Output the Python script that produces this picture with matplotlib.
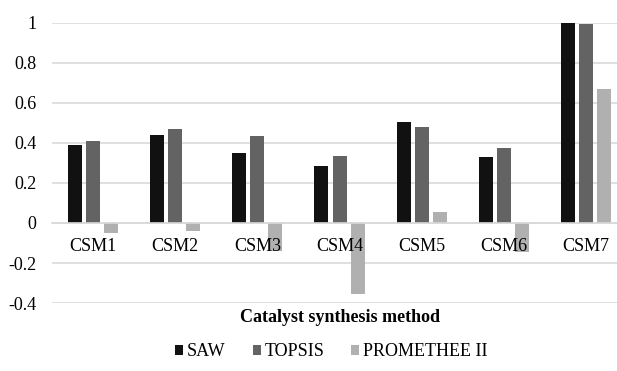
import numpy as np
import matplotlib.pyplot as plt

categories = ["CSM1", "CSM2", "CSM3", "CSM4", "CSM5", "CSM6", "CSM7"]
saw = [0.39, 0.437, 0.35, 0.282, 0.503, 0.33, 1.0]
topsis = [0.407, 0.47, 0.433, 0.335, 0.48, 0.373, 0.995]
promethee = [-0.05, -0.04, -0.14, -0.355, 0.053, -0.147, 0.67]

series = [("SAW", saw, "#111111"),
          ("TOPSIS", topsis, "#636363"),
          ("PROMETHEE II", promethee, "#b0b0b0")]

plt.rcParams['font.family'] = ['Liberation Serif', 'DejaVu Serif']

fig = plt.figure(figsize=(6.17, 3.71), dpi=100)
# plot area runs a little past the right edge, like the cropped original
ax = fig.add_axes([0.0843, 0.183, 0.932, 0.756])

x = np.arange(len(categories))
for i, (name, vals, col) in enumerate(series):
    ax.bar(x + (i - 1) * 0.22, vals, width=0.17, color=col, label=name, zorder=2)

# category axis sits on the zero line
ax.spines['bottom'].set_position(('data', 0))
ax.spines['bottom'].set_color("#d9d9d9")
ax.spines['bottom'].set_linewidth(1.2)
for s in ["left", "right", "top"]:
    ax.spines[s].set_visible(False)

ax.set_xlim(-0.5, len(categories) - 0.5)
ax.set_ylim(-0.4, 1.0)
ax.set_yticks(np.arange(-0.4, 1.01, 0.2))
ax.set_yticklabels(["-0.4", "-0.2", "0", "0.2", "0.4", "0.6", "0.8", "1"], fontsize=13)
ax.yaxis.grid(True, color="#d9d9d9", linewidth=1.2, zorder=0)
ax.tick_params(axis="y", length=0, pad=11)

# category names drawn as text so they sit on top of the negative bars
ax.set_xticks([])
for xi, name in zip(x, categories):
    ax.annotate(name, (xi, 0), xytext=(0, -11), textcoords="offset points",
                ha="center", va="top", fontsize=13, zorder=5)

fig.text(0.551, 0.143, "Catalyst synthesis method", ha="center", va="center",
         fontsize=13, fontweight="bold")

fig.legend(loc="center", bbox_to_anchor=(0.537, 0.052), ncol=3, frameon=False,
           fontsize=13, handlelength=0.45, handleheight=0.45, handletextpad=0.2,
           columnspacing=1.5)

plt.savefig("out.png")
